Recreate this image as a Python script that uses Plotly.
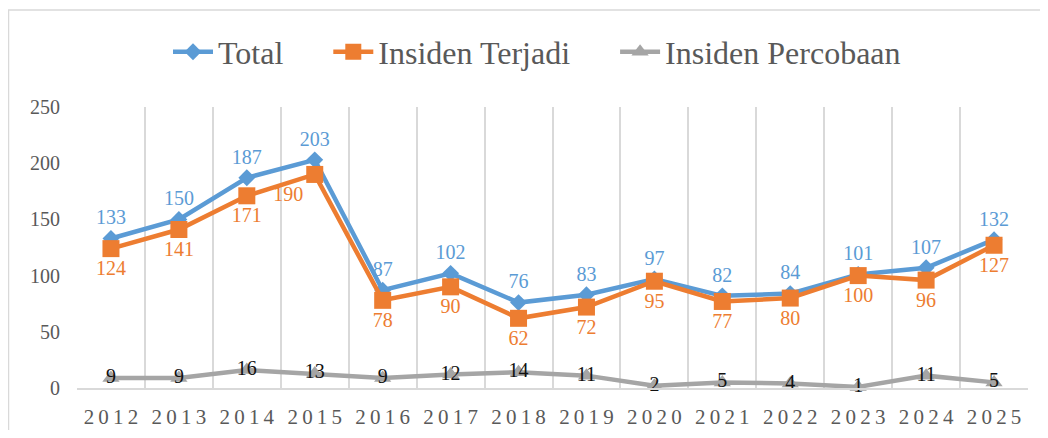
import plotly.graph_objects as go

years = ["2012", "2013", "2014", "2015", "2016", "2017", "2018", "2019",
         "2020", "2021", "2022", "2023", "2024", "2025"]
total = [133, 150, 187, 203, 87, 102, 76, 83, 97, 82, 84, 101, 107, 132]
terjadi = [124, 141, 171, 190, 78, 90, 62, 72, 95, 77, 80, 100, 96, 127]
percobaan = [9, 9, 16, 13, 9, 12, 14, 11, 2, 5, 4, 1, 11, 5]
y_ticks = [0, 50, 100, 150, 200, 250]
series_names = ["Total", "Insiden Terjadi", "Insiden Percobaan"]

FONT = "Times New Roman, Liberation Serif, serif"
BLUE = "#5B9BD5"
ORANGE = "#ED7D31"
GRAY = "#A5A5A5"

spaced = ["\u2009".join(y) for y in years]
pad = "\u00a0" * 5

orange_pos = ["bottom center"] * len(years)
orange_pos[years.index("2015")] = "bottom left"

fig = go.Figure()
fig.add_trace(go.Scatter(
    x=years, y=total, name=series_names[0] + pad, mode="lines+markers+text",
    line=dict(color=BLUE, width=4.5),
    marker=dict(symbol="diamond", size=13, color=BLUE),
    text=[str(v) for v in total], textposition="top center",
    textfont=dict(family=FONT, size=20, color=BLUE), cliponaxis=False))
fig.add_trace(go.Scatter(
    x=years, y=terjadi, name=series_names[1] + pad, mode="lines+markers+text",
    line=dict(color=ORANGE, width=4.5),
    marker=dict(symbol="square", size=17, color=ORANGE),
    text=[str(v) for v in terjadi], textposition=orange_pos,
    textfont=dict(family=FONT, size=20, color=ORANGE), cliponaxis=False))
fig.add_trace(go.Scatter(
    x=years, y=percobaan, name=series_names[2], mode="lines+markers+text",
    line=dict(color=GRAY, width=4.5),
    marker=dict(symbol="triangle-up", size=15, color=GRAY),
    text=[str(v) for v in percobaan], textposition="middle center",
    textfont=dict(family=FONT, size=20, color="#111111"), cliponaxis=False))

# page has an 8px body margin; figure coordinates are page - 8
W, H = 1032, 422
L, T = 69, 99
R = W - 1020
B = H - 380
pw, ph = W - L - R, H - T - B

fig.update_layout(
    width=W, height=H,
    margin=dict(l=L, r=R, t=T, b=B, autoexpand=False),
    paper_bgcolor="white", plot_bgcolor="white",
    font=dict(family=FONT, color="#595959"),
    showlegend=True,
    legend=dict(orientation="h", x=(529 - L) / pw, xanchor="center",
                y=(380 - 44) / ph, yanchor="middle",
                font=dict(family=FONT, size=32, color="#595959"),
                itemwidth=40, tracegroupgap=0),
    xaxis=dict(type="category", tickson="boundaries", showgrid=True,
               gridcolor="#D9D9D9", gridwidth=1.5, showline=True,
               linecolor="#D9D9D9", linewidth=1.5, ticks="",
               tickvals=years, ticktext=spaced, ticklabelstandoff=9,
               automargin=False,
               tickfont=dict(family=FONT, size=21, color="#595959"),
               range=[-0.5, len(years) - 0.5]),
    yaxis=dict(range=[0, 250], tickvals=y_ticks, showgrid=False,
               zeroline=False, showline=False, ticks="",
               ticklabelstandoff=16, automargin=False,
               tickfont=dict(family=FONT, size=20, color="#595959")),
    shapes=[dict(type="rect", xref="paper", yref="paper",
                 x0=(0.5 - L) / pw, x1=(1060 - L) / pw,
                 y0=(380 - 450) / ph, y1=(380 - 2) / ph,
                 line=dict(color="#D9D9D9", width=1.5), layer="below")],
)

fig.write_html("out.html")
